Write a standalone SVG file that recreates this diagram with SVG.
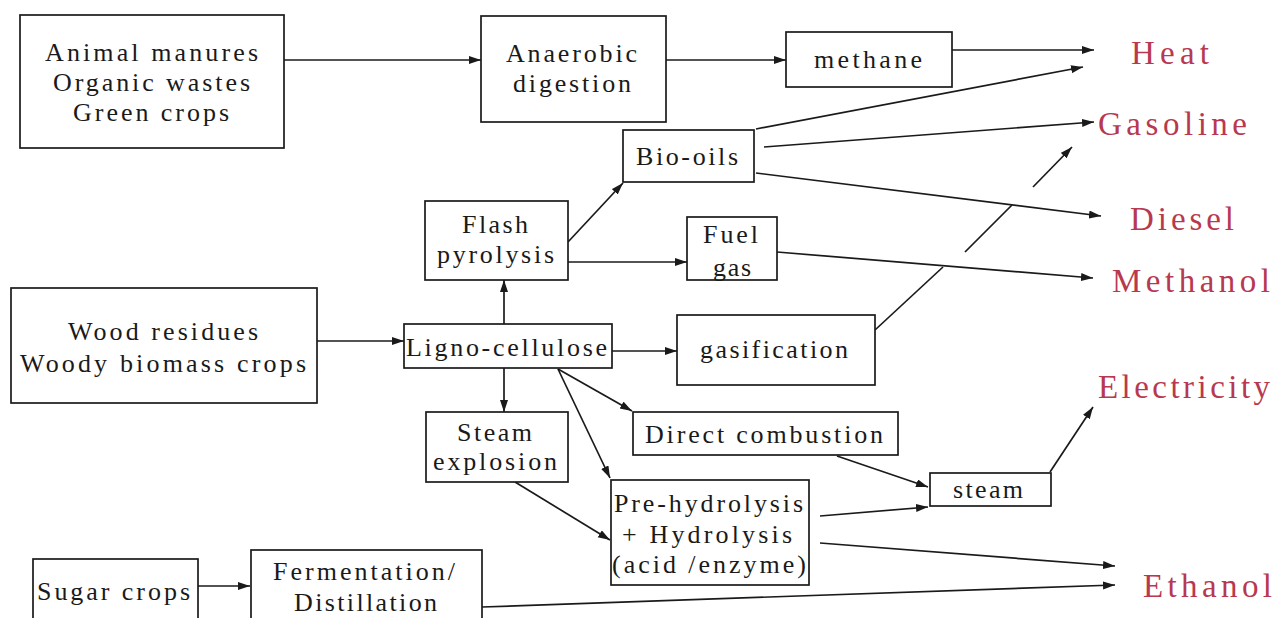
<svg xmlns="http://www.w3.org/2000/svg" width="1276" height="618" viewBox="0 0 1276 618">
  <defs>
    <marker id="arrow" markerUnits="userSpaceOnUse" markerWidth="13" markerHeight="9" refX="12" refY="4" orient="auto">
      <path d="M0,0 L12,4 L0,8 z" fill="#1a1a1a"/>
    </marker>
    <style>
      .box { fill: #ffffff; stroke: #1a1a1a; stroke-width: 1.7; }
      .lbl { font-family: "Liberation Serif", "Times New Roman", serif; font-size: 26px; fill: #1a1a1a; }
      .out { font-family: "Liberation Serif", "Times New Roman", serif; font-size: 33px; fill: #b8394f; }
      .edge { fill: none; stroke: #1a1a1a; stroke-width: 1.7; }
      .edge.arr { marker-end: url(#arrow); }
    </style>
  </defs>

  <rect width="1276" height="618" fill="#ffffff"/>

  <!-- connectors -->
  <g id="connectors">
    <line class="edge arr" x1="284" y1="60" x2="481" y2="60"/>
    <line class="edge arr" x1="666" y1="60" x2="786" y2="60"/>
    <line class="edge arr" x1="952" y1="50" x2="1094" y2="50"/>
    <line class="edge arr" x1="756" y1="129" x2="1083" y2="67"/>
    <line class="edge arr" x1="764" y1="147" x2="1094" y2="122"/>
    <line class="edge arr" x1="756" y1="173" x2="1101" y2="216"/>
    <line class="edge arr" x1="568" y1="242" x2="623" y2="183"/>
    <line class="edge arr" x1="568" y1="262" x2="687" y2="262"/>
    <line class="edge arr" x1="777" y1="252" x2="1093" y2="278"/>
    <line class="edge arr" x1="317" y1="341" x2="404" y2="341"/>
    <line class="edge arr" x1="504" y1="324" x2="504" y2="280"/>
    <line class="edge arr" x1="612" y1="351" x2="677" y2="351"/>
    <!-- gasification to gasoline, broken where it crosses other lines -->
    <line class="edge" x1="875" y1="330" x2="943" y2="267"/>
    <line class="edge" x1="965" y1="252" x2="1012" y2="205"/>
    <line class="edge arr" x1="1033" y1="187" x2="1072" y2="147"/>
    <line class="edge arr" x1="504" y1="368" x2="504" y2="412"/>
    <line class="edge arr" x1="558" y1="369" x2="632" y2="411"/>
    <line class="edge arr" x1="558" y1="369" x2="610" y2="478"/>
    <line class="edge arr" x1="515" y1="482" x2="610" y2="540"/>
    <line class="edge arr" x1="837" y1="456" x2="928" y2="487"/>
    <line class="edge arr" x1="820" y1="516" x2="928" y2="507"/>
    <line class="edge arr" x1="1050" y1="472" x2="1093" y2="407"/>
    <line class="edge arr" x1="820" y1="543" x2="1115" y2="566"/>
    <line class="edge arr" x1="482" y1="607" x2="1115" y2="585"/>
    <line class="edge arr" x1="198" y1="586" x2="250" y2="586"/>
  </g>

  <!-- feedstock nodes -->
  <g id="n-manures">
    <rect class="box" x="20" y="15" width="264" height="133"/>
    <text class="lbl" x="45" y="61" textLength="213" lengthAdjust="spacing">Animal manures</text>
    <text class="lbl" x="53" y="91" textLength="197" lengthAdjust="spacing">Organic wastes</text>
    <text class="lbl" x="73" y="121" textLength="156" lengthAdjust="spacing">Green crops</text>
  </g>
  <g id="n-wood">
    <rect class="box" x="11" y="288" width="306" height="115"/>
    <text class="lbl" x="68" y="340" textLength="190" lengthAdjust="spacing">Wood residues</text>
    <text class="lbl" x="20" y="372" textLength="286" lengthAdjust="spacing">Woody biomass crops</text>
  </g>
  <g id="n-sugar">
    <rect class="box" x="33" y="559" width="165" height="70"/>
    <text class="lbl" x="37" y="600" textLength="153" lengthAdjust="spacing">Sugar crops</text>
  </g>

  <!-- process nodes -->
  <g id="n-anaerobic">
    <rect class="box" x="481" y="16" width="185" height="106"/>
    <text class="lbl" x="506" y="62" textLength="131" lengthAdjust="spacing">Anaerobic</text>
    <text class="lbl" x="513" y="92" textLength="118" lengthAdjust="spacing">digestion</text>
  </g>
  <g id="n-methane">
    <rect class="box" x="786" y="32" width="166" height="55"/>
    <text class="lbl" x="814" y="68" textLength="108" lengthAdjust="spacing">methane</text>
  </g>
  <g id="n-biooils">
    <rect class="box" x="623" y="130" width="131" height="52"/>
    <text class="lbl" x="636" y="165" textLength="102" lengthAdjust="spacing">Bio-oils</text>
  </g>
  <g id="n-flash">
    <rect class="box" x="425" y="201" width="143" height="79"/>
    <text class="lbl" x="462" y="233" textLength="66" lengthAdjust="spacing">Flash</text>
    <text class="lbl" x="437" y="263" textLength="117" lengthAdjust="spacing">pyrolysis</text>
  </g>
  <g id="n-fuelgas">
    <rect class="box" x="687" y="217" width="90" height="63"/>
    <text class="lbl" x="703" y="243" textLength="55" lengthAdjust="spacing">Fuel</text>
    <text class="lbl" x="713" y="276" textLength="38" lengthAdjust="spacing">gas</text>
  </g>
  <g id="n-ligno">
    <rect class="box" x="404" y="324" width="208" height="44"/>
    <text class="lbl" x="406" y="356" textLength="201" lengthAdjust="spacing">Ligno-cellulose</text>
  </g>
  <g id="n-gasification">
    <rect class="box" x="677" y="315" width="198" height="70"/>
    <text class="lbl" x="700" y="358" textLength="148" lengthAdjust="spacing">gasification</text>
  </g>
  <g id="n-steamexp">
    <rect class="box" x="426" y="412" width="142" height="70"/>
    <text class="lbl" x="457" y="441" textLength="75" lengthAdjust="spacing">Steam</text>
    <text class="lbl" x="433" y="470" textLength="124" lengthAdjust="spacing">explosion</text>
  </g>
  <g id="n-direct">
    <rect class="box" x="633" y="412" width="265" height="43"/>
    <text class="lbl" x="645" y="443" textLength="238" lengthAdjust="spacing">Direct combustion</text>
  </g>
  <g id="n-prehyd">
    <rect class="box" x="611" y="480" width="198" height="105"/>
    <text class="lbl" x="614" y="512" textLength="189" lengthAdjust="spacing">Pre-hydrolysis</text>
    <text class="lbl" x="622" y="543" textLength="170" lengthAdjust="spacing">+ Hydrolysis</text>
    <text class="lbl" x="612" y="573" textLength="194" lengthAdjust="spacing">(acid /enzyme)</text>
  </g>
  <g id="n-steam">
    <rect class="box" x="930" y="473" width="121" height="33"/>
    <text class="lbl" x="953" y="498" textLength="70" lengthAdjust="spacing">steam</text>
  </g>
  <g id="n-ferment">
    <rect class="box" x="251" y="550" width="231" height="80"/>
    <text class="lbl" x="273" y="580" textLength="182" lengthAdjust="spacing">Fermentation/</text>
    <text class="lbl" x="294" y="611" textLength="143" lengthAdjust="spacing">Distillation</text>
  </g>

  <!-- energy products -->
  <g id="p-heat"><text class="out" x="1131" y="64" textLength="78" lengthAdjust="spacing">Heat</text></g>
  <g id="p-gasoline"><text class="out" x="1098" y="135" textLength="149" lengthAdjust="spacing">Gasoline</text></g>
  <g id="p-diesel"><text class="out" x="1130" y="230" textLength="104" lengthAdjust="spacing">Diesel</text></g>
  <g id="p-methanol"><text class="out" x="1112" y="292" textLength="158" lengthAdjust="spacing">Methanol</text></g>
  <g id="p-electricity"><text class="out" x="1098" y="398" textLength="172" lengthAdjust="spacing">Electricity</text></g>
  <g id="p-ethanol"><text class="out" x="1143" y="597" textLength="129" lengthAdjust="spacing">Ethanol</text></g>
</svg>
